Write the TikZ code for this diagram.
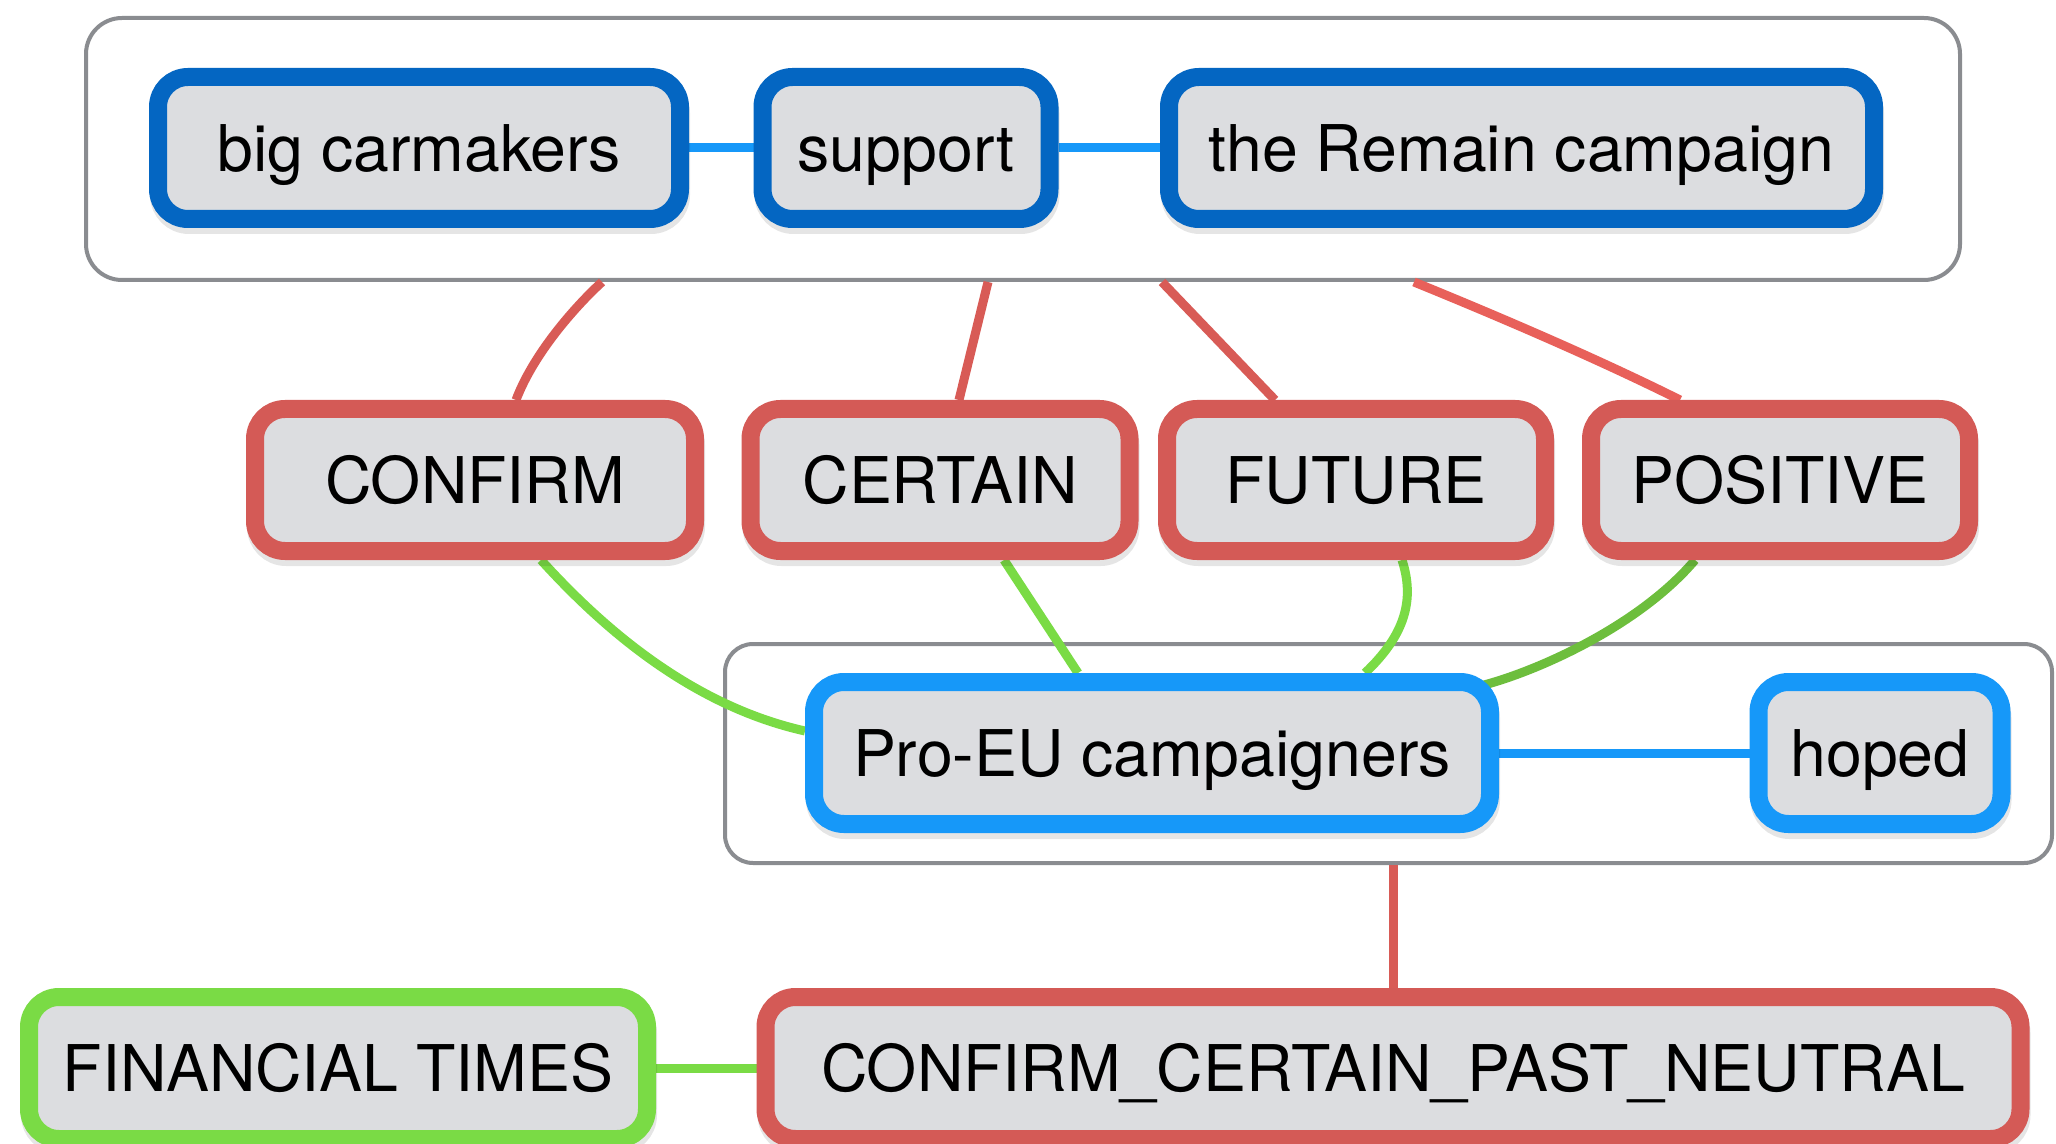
\documentclass[tikz,border=0pt]{standalone}
\usepackage{fontspec}
\usetikzlibrary{calc,shadows}
\newfontfamily\tagfont{TeX Gyre Heros}

\definecolor{darkblue}{HTML}{0466C2}
\definecolor{lightblue}{HTML}{1698F9}
\definecolor{tagred}{HTML}{D45A56}
\definecolor{linkred}{HTML}{D85B56}
\definecolor{brightred}{HTML}{E8605A}
\definecolor{taggreen}{HTML}{7ADB45}
\definecolor{darkgreen}{HTML}{6DBE3D}
\definecolor{tagfill}{HTML}{DCDDE0}
\definecolor{framegray}{HTML}{8A8C90}

\pgfdeclarelayer{bg}
\pgfsetlayers{bg,main}

\tikzset{
  tag/.style={rectangle, rounded corners=15pt, line width=9pt, fill=tagfill,
    minimum height=71pt, inner sep=0pt, text height=23.2pt, text depth=0pt,
    font=\tagfont\fontsize{32.2pt}{39pt}\selectfont,
    drop shadow={shadow xshift=0.5pt, shadow yshift=-3pt, fill=black,
      draw=black, line width=9pt, opacity=0.10}},
  bluetag/.style={tag, draw=darkblue},
  lighttag/.style={tag, draw=lightblue},
  redtag/.style={tag, draw=tagred},
  greentag/.style={tag, draw=taggreen},
  frame/.style={rectangle, draw=framegray, line width=2pt, fill=white, inner sep=0pt},
  link/.style={line width=4.5pt},
}

\begin{document}
\begin{tikzpicture}[x=0.5pt,y=-0.5pt]
\useasboundingbox (0,0) rectangle (2056,1144);
\clip (0,0) rectangle (2056,1144);

% grouping frames
\begin{pgfonlayer}{bg}
  \node[frame, rounded corners=18pt, minimum width=937pt, minimum height=131pt] (g1) at (1023,149) {};
  \node[frame, rounded corners=14pt, minimum width=663.5pt, minimum height=109.5pt] (g2) at (1388.5,753.5) {};
\end{pgfonlayer}

% top row
\node[bluetag, minimum width=261pt]   (bc)  at (419,148)  {big carmakers};
\node[bluetag, minimum width=143.5pt] (sup) at (906,148)  {support};
\node[bluetag, minimum width=352.5pt] (rem) at (1521.5,148) {the Remain campaign};

% attribute row
\node[redtag, minimum width=220pt]   (confirm)  at (475,480)  {CONFIRM};
\node[redtag, minimum width=189.5pt] (certain)  at (940,480)  {CERTAIN};
\node[redtag, minimum width=189pt]   (future)   at (1356,480) {FUTURE};
\node[redtag, minimum width=189pt]   (positive) at (1780,480) {POSITIVE};

% second group
\node[lighttag, minimum width=338pt]   (proeu) at (1152,753) {Pro-EU campaigners};
\node[lighttag, minimum width=121.5pt] (hoped) at (1880,753) {hoped};

% bottom row
\node[greentag, minimum width=309pt]  (ft)   at (338,1068)  {FINANCIAL TIMES};
\node[redtag, minimum width=627.5pt]  (ccpn) at (1393,1068) {CONFIRM\_CERTAIN\_PAST\_NEUTRAL};

\begin{pgfonlayer}{bg}
  % relations inside the groups
  \draw[link, lightblue] (bc.east) -- (sup.west);
  \draw[link, lightblue] (sup.east) -- (rem.west);
  \draw[link, lightblue] (proeu.east) -- (hoped.west);

  % top group to its attributes
  \draw[link, linkred] ($(g1.south west)+(518,0)$)
    .. controls ($(g1.south west)+(496,20)$) and ($(confirm.north)+(60,-50)$) .. ($(confirm.north)+(41,0)$);
  \draw[link, linkred] ($(g1.south west)+(904,0)$) -- ($(certain.north)+(19,0)$);
  \draw[link, linkred] ($(g1.south west)+(1078,0)$) -- ($(future.north)+(-81,0)$);
  \draw[link, brightred] ($(g1.south west)+(1330,0)$)
    .. controls ($(g1.south west)+(1416,35)$) and ($(positive.north)+(-180,-40)$) .. ($(positive.north)+(-100,0)$);

  % attributes to the second group
  \draw[link, taggreen] ($(confirm.south)+(66,0)$)
    .. controls ($(confirm.south)+(125,65)$) and ($(proeu.west)+(-116,-48)$) .. ($(proeu.west)+(0,-22)$);
  \draw[link, taggreen] ($(certain.south)+(64,0)$) -- ($(proeu.north)+(-74,0)$);
  \draw[link, taggreen] ($(future.south)+(46,0)$)
    .. controls ($(future.south)+(59,40)$) and ($(proeu.north)+(253,-38)$) .. ($(proeu.north)+(213,0)$);
  \draw[link, darkgreen] ($(positive.south)+(-85,0)$)
    .. controls ($(positive.south)+(-140,65)$) and ($(proeu.north east)+(41,-3)$) .. ($(proeu.north east)+(-15,12)$);

  % second group to the bottom row
  \draw[link, linkred] (g2.south -| ccpn.north) -- (ccpn.north);
  \draw[link, taggreen] (ft.east) -- (ccpn.west);
\end{pgfonlayer}
\end{tikzpicture}
\end{document}
